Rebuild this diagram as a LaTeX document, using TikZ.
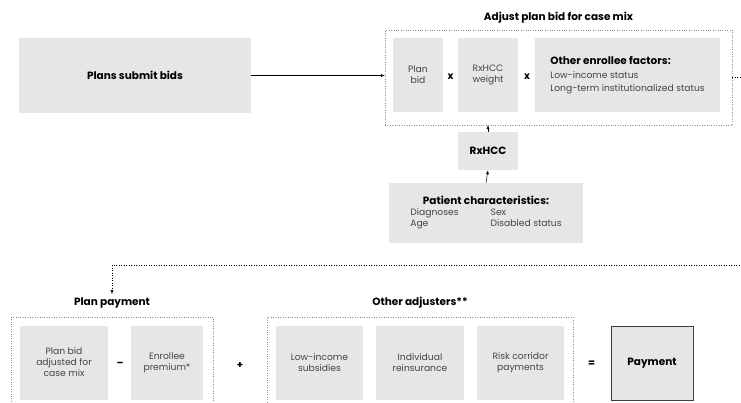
\documentclass[tikz,border=0pt]{standalone}
\usepackage{fontspec}
\setmainfont{Poppins}
\usetikzlibrary{arrows.meta,positioning}
\definecolor{boxgray}{HTML}{E6E6E6}
\definecolor{txtgray}{HTML}{444444}
\definecolor{framegray}{HTML}{8C8C8C}
\tikzset{
  gbox/.style={fill=boxgray, inner sep=2pt, align=center, text=txtgray,
    font=\fontsize{9.2}{11}\selectfont},
  frame/.style={draw=framegray, dotted, inner sep=0pt},
  head/.style={font=\bfseries\fontsize{10.5}{12}\selectfont, text=black},
  op/.style={font=\bfseries\fontsize{10}{10}\selectfont, text=black},
  conn/.style={-{Latex[length=4pt,width=3pt]}, black, line width=0.5pt},
}
\newcommand{\hd}[1]{{\bfseries\fontsize{10.5}{12}\selectfont\color{black}#1}}
\begin{document}
\begin{tikzpicture}[x=1pt,y=-1pt]
\useasboundingbox (0,0) rectangle (741,402);

% first step
\node[gbox, head, minimum width=232, minimum height=75] (bids) at (135,75.5) {Plans submit bids};

% case mix adjustment
\node[frame, minimum width=347, minimum height=95] (adjframe) at (558.5,77.5) {};
\node[head, above=3pt of adjframe.north] (adjtitle) {Adjust plan bid for case mix};
\node[gbox, minimum width=50, minimum height=74] (planbid) at (418,75) {Plan\\bid};
\node[gbox, minimum width=60, minimum height=74] (weight) at (488,75) {RxHCC\\weight};
\node[gbox, minimum width=185, minimum height=74, align=left, font=\fontsize{9.2}{13}\selectfont] (factors) at (627.5,75)
  {\hd{Other enrollee factors:}\\[1pt] Low-income status\\ Long-term institutionalized status};
\node[op] (times1) at (450.5,77) {x};
\node[op] (times2) at (527,77) {x};

\node[gbox, head, minimum width=60, minimum height=38] (rxhcc) at (488,151) {RxHCC};
\node[gbox, minimum width=194, minimum height=60] (patient) at (486,213)
  {\hd{Patient characteristics:}\\[2pt]
   \begin{tabular}{@{}l@{\hspace{32pt}}l@{}}Diagnoses & Sex\\ Age & Disabled status\end{tabular}};

\draw[conn] (bids.east) -- (bids.east -| adjframe.west);
\draw[conn] (patient.north) -- (rxhcc.south);
\draw[conn] (rxhcc.north) -- (adjframe.south -| rxhcc.north);

% plan payment
\node[frame, minimum width=202, minimum height=93] (payframe) at (112,363.5) {};
\node[head, above=5pt of payframe.north] (paytitle) {Plan payment};
\node[gbox, minimum width=88, minimum height=74] (adjbid) at (64,362.5) {Plan bid\\adjusted for\\case mix};
\node[gbox, minimum width=72, minimum height=74] (premium) at (167,362.5) {Enrollee\\premium*};
\node[op] (minus) at (120,364) {--};
\node[op] (plus) at (240,365) {+};

% other adjusters
\node[frame, minimum width=306, minimum height=93] (otherframe) at (420,363.5) {};
\node[head, above=5pt of otherframe.north] (othertitle) {Other adjusters**};
\node[gbox, minimum width=87, minimum height=74] (lowinc) at (319.5,362.5) {Low-income\\subsidies};
\node[gbox, minimum width=88, minimum height=74] (reins) at (420,362.5) {Individual\\reinsurance};
\node[gbox, minimum width=87, minimum height=74] (corridor) at (520.5,362.5) {Risk corridor\\payments};
\node[op] (equals) at (591.5,364) {=};
\node[gbox, head, draw=black!75, line width=0.8pt, minimum width=82, minimum height=74] (payment) at (652,363) {Payment};

% loop back to the plan payment
\coordinate (loopR) at (762,265);
\coordinate (loopL) at (112,265);
\draw[conn, dotted] (adjframe.east) -| (loopR) -- (loopL) -- (loopL |- paytitle.north);
\end{tikzpicture}
\end{document}
